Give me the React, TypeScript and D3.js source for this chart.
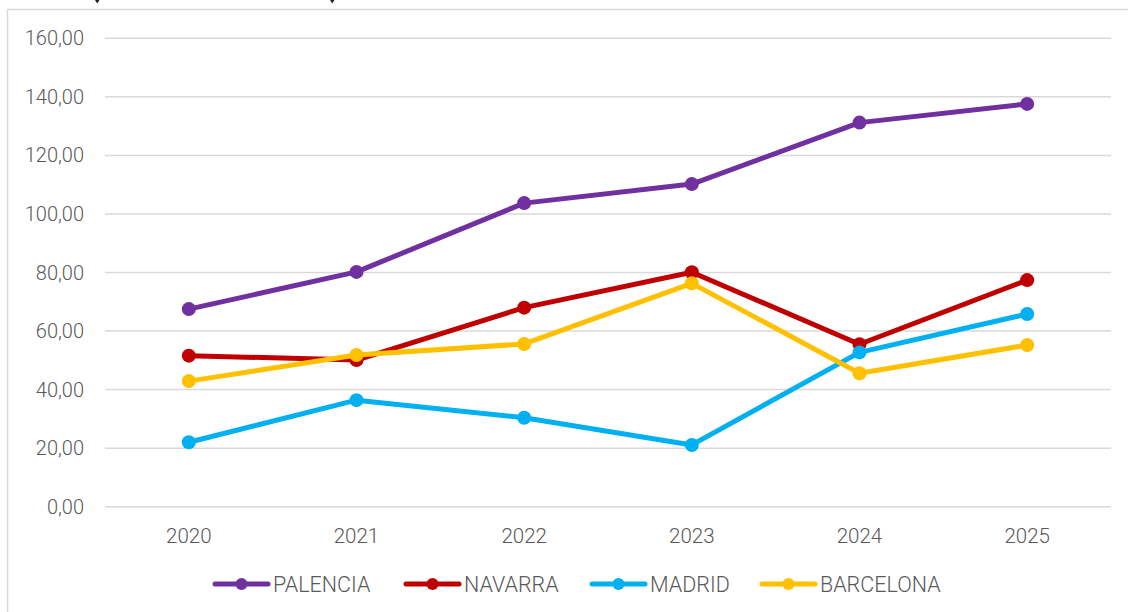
import React from "react";
import * as d3 from "d3";

const years = ["2020", "2021", "2022", "2023", "2024", "2025"];
const seriesNames = ["PALENCIA", "NAVARRA", "MADRID", "BARCELONA"];
const seriesColors = ["#7030A0", "#C00000", "#00B0F0", "#FFC000"];
const palencia = [67.5, 80.2, 103.7, 110.2, 131.2, 137.6];
const navarra = [51.6, 50.1, 68.0, 80.1, 55.5, 77.4];
const madrid = [22.0, 36.4, 30.4, 21.1, 52.7, 65.8];
const barcelona = [42.9, 51.8, 55.6, 76.3, 45.6, 55.2];
const yTicks = [0, 20, 40, 60, 80, 100, 120, 140, 160];

const W = 1128;
const H = 612;
const FONT = "'Roboto', sans-serif";
const TEXT = "#595959";

export default function App() {
  const values = [palencia, navarra, madrid, barcelona];
  const x = d3.scaleBand<string>().domain(years).range([105, 1111]);
  const cx = (yr: string) => (x(yr) as number) + x.bandwidth() / 2;
  const y = d3.scaleLinear().domain([0, 160]).range([506.7, 38.3]);
  const fmt = (v: number) => d3.format(".2f")(v).replace(".", ",");
  const line = d3
    .line<number>()
    .x((_, i) => cx(years[i]))
    .y((d) => y(d));

  const legendX = [215, 406, 592, 762];
  const legendY = 584;

  return (
    <svg
      width={W}
      height={H}
      style={{ position: "absolute", left: 0, top: 0, background: "#fff" }}
      fontFamily={FONT}
      fontWeight={300}
    >
      <rect x={0} y={0} width={W} height={H} fill="#fff" />
      {/* frame */}
      <line x1={7.5} y1={9.5} x2={W} y2={9.5} stroke="#D9D9D9" strokeWidth={1.5} />
      <line x1={7.5} y1={9.5} x2={7.5} y2={H} stroke="#D9D9D9" strokeWidth={1.5} />
      {/* cropped marks at top */}
      <path d="M95,0 L99.5,0 L97.2,3.5 Z" fill="#222" />
      <path d="M330,0 L334.5,0 L332.2,3.5 Z" fill="#222" />
      {/* gridlines + y labels */}
      {yTicks.map((t) => (
        <g key={t}>
          <line x1={105} x2={1111} y1={y(t)} y2={y(t)} stroke="#D9D9D9" strokeWidth={1.5} />
          <text
            x={84}
            y={y(t)}
            dy="0.35em"
            textAnchor="end"
            fontSize={20}
            fill={TEXT}
          >
            {fmt(t)}
          </text>
        </g>
      ))}
      {/* x labels */}
      {years.map((yr) => (
        <text key={yr} x={cx(yr)} y={536} dy="0.35em" textAnchor="middle" fontSize={20.5} fill={TEXT}>
          {yr}
        </text>
      ))}
      {/* series */}
      {values.map((vals, si) => (
        <g key={seriesNames[si]}>
          <path
            d={line(vals) as string}
            fill="none"
            stroke={seriesColors[si]}
            strokeWidth={5}
            strokeLinejoin="round"
          />
          {vals.map((v, i) => (
            <circle key={i} cx={cx(years[i])} cy={y(v)} r={7} fill={seriesColors[si]} />
          ))}
        </g>
      ))}
      {/* legend */}
      {seriesNames.map((name, si) => (
        <g key={name} transform={`translate(${legendX[si]},${legendY})`}>
          <line x1={0} x2={53} y1={0} y2={0} stroke={seriesColors[si]} strokeWidth={5} strokeLinecap="round" />
          <circle cx={26.5} cy={0} r={6} fill={seriesColors[si]} />
          <text x={58} y={0} dy="0.35em" fontSize={21.5} fill={TEXT}>
            {name}
          </text>
        </g>
      ))}
    </svg>
  );
}
